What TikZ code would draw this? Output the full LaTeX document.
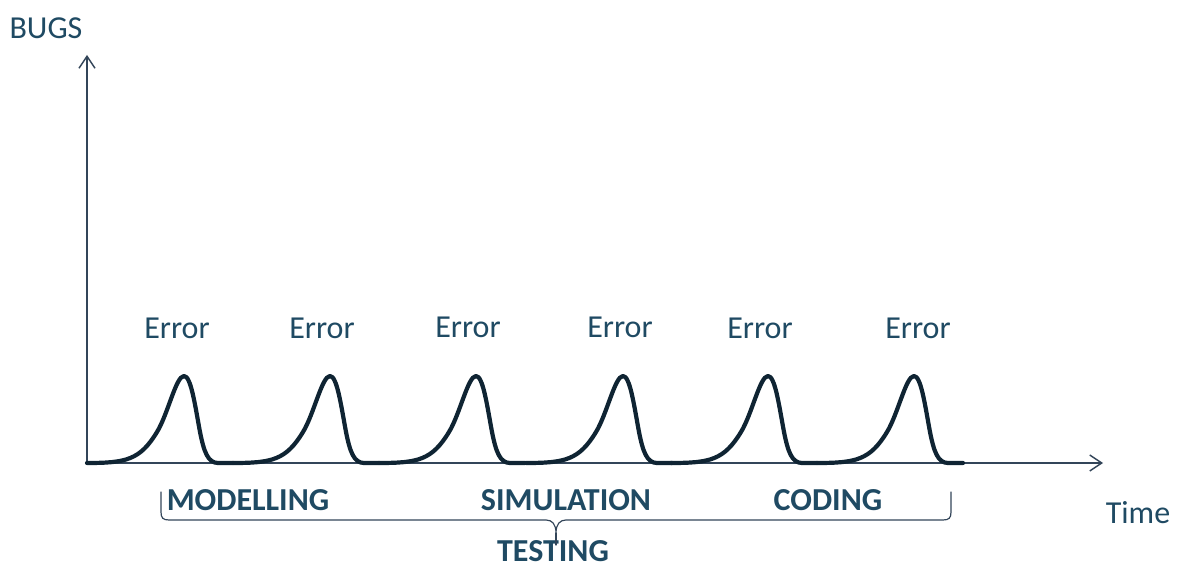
\documentclass[tikz,border=0pt]{standalone}
\usepackage{fontspec}
\setmainfont{Carlito}
\usetikzlibrary{arrows.meta}
\definecolor{ttnavy}{rgb}{0.12,0.29,0.39}
\definecolor{qqdark}{rgb}{0.06,0.14,0.2}
\definecolor{zzaxis}{rgb}{0.2,0.27,0.35}
\begin{document}
\begin{tikzpicture}[line cap=round,line join=round,>={Straight Barb[length=6pt,width=8pt]},x=0.5pt,y=-0.5pt,
  lbl/.style={text=ttnavy,font=\fontsize{16}{19}\selectfont,inner sep=0pt},
  phase/.style={lbl,font=\fontsize{16}{19}\selectfont\bfseries},
  axis/.style={color=zzaxis,line width=0.7pt},
  bugcurve/.style={color=qqdark,line width=2.1pt},
  bracket/.style={color=zzaxis,line width=0.6pt}]
\useasboundingbox (0,0) rectangle (1179,565);
% axes
\coordinate (origin) at (87,463);
\coordinate (ytip) at (87,55);
\coordinate (xtip) at (1103,463);
\draw [axis,->] (origin) -- (ytip);
\draw [axis,->] (origin) -- (xtip);
\node[lbl] (bugs) at (46,28) {BUGS};
\node[lbl] (time) at (1138,513) {Time};
% error peaks
\draw [bugcurve,shift={(184,0)}] (-97,463) .. controls (-58,463) and (-44,460) .. (-27,432) .. controls (-16,414) and (-8,376) .. (0,376) .. controls (7,376) and (11,405) .. (16,432) .. controls (20,452) and (24,463) .. (34,463) -- (49,463);
\draw [bugcurve,shift={(330,0)}] (-97,463) .. controls (-58,463) and (-44,460) .. (-27,432) .. controls (-16,414) and (-8,376) .. (0,376) .. controls (7,376) and (11,405) .. (16,432) .. controls (20,452) and (24,463) .. (34,463) -- (49,463);
\draw [bugcurve,shift={(476,0)}] (-97,463) .. controls (-58,463) and (-44,460) .. (-27,432) .. controls (-16,414) and (-8,376) .. (0,376) .. controls (7,376) and (11,405) .. (16,432) .. controls (20,452) and (24,463) .. (34,463) -- (49,463);
\draw [bugcurve,shift={(623,0)}] (-97,463) .. controls (-58,463) and (-44,460) .. (-27,432) .. controls (-16,414) and (-8,376) .. (0,376) .. controls (7,376) and (11,405) .. (16,432) .. controls (20,452) and (24,463) .. (34,463) -- (49,463);
\draw [bugcurve,shift={(768,0)}] (-97,463) .. controls (-58,463) and (-44,460) .. (-27,432) .. controls (-16,414) and (-8,376) .. (0,376) .. controls (7,376) and (11,405) .. (16,432) .. controls (20,452) and (24,463) .. (34,463) -- (49,463);
\draw [bugcurve,shift={(914,0)}] (-97,463) .. controls (-58,463) and (-44,460) .. (-27,432) .. controls (-16,414) and (-8,376) .. (0,376) .. controls (7,376) and (11,405) .. (16,432) .. controls (20,452) and (24,463) .. (34,463) -- (49,463);
\node[lbl] (err1) at (177,328) {Error};
\node[lbl] (err2) at (322,328) {Error};
\node[lbl] (err3) at (468,327) {Error};
\node[lbl] (err4) at (620,327) {Error};
\node[lbl] (err5) at (760,328) {Error};
\node[lbl] (err6) at (918,328) {Error};
% phases
\node[phase] (modelling) at (248,500) {MODELLING};
\node[phase] (simulation) at (566,500) {SIMULATION};
\node[phase] (coding) at (828,500) {CODING};
\node[phase] (testing) at (553,551) {TESTING};
\coordinate (bl) at (161,492);
\coordinate (br) at (951,492);
\coordinate (tip) at (556,533);
\draw [bracket] (bl) -- (161,512) .. controls (161,518) and (163,520) .. (169,520) -- (546,520) .. controls (552,520) and (556,524) .. (tip) .. controls (556,524) and (560,520) .. (566,520) -- (943,520) .. controls (949,520) and (951,518) .. (951,512) -- (br);
\draw [bracket] (tip) -- (556,545);
\end{tikzpicture}
\end{document}
